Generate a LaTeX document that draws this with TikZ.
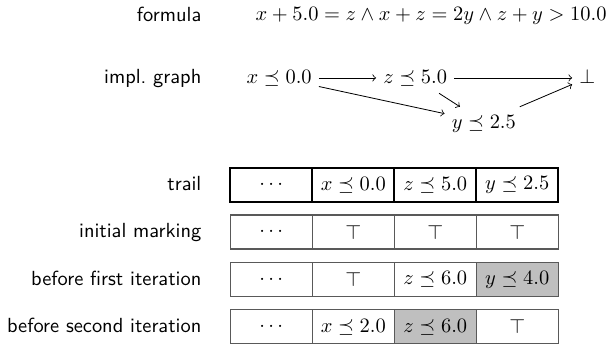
\documentclass[tikz,border=0pt]{standalone}
\usetikzlibrary{positioning}
\tikzset{
  rowlabel/.style={anchor=east,font=\sffamily,inner sep=0pt,text height=1.5ex,text depth=.25ex},
  impl/.style={text height=1.6ex,text depth=.25ex},
  cell/.style={draw=black!65,line width=0.6pt,minimum width=1.41cm,minimum height=0.585cm,inner sep=0pt,outer sep=0pt},
  trailcell/.style={cell,draw=black,line width=1pt},
  hit/.style={fill=black!25}
}
\begin{document}
\begin{tikzpicture}
        \useasboundingbox (0,0) rectangle (10.49,-5.97);
        \pgfmathsetmacro{\lx}{3.47}
        \pgfmathsetmacro{\tx}{3.96}
        \node[rowlabel] (lformula) at (\lx,-0.28) {formula};
        \node[anchor=west,inner sep=0pt] (formula) at (4.39,-0.28) {$x+5.0=z\wedge x+z=2y\wedge z+y>10.0$};
        \node[rowlabel] (lgraph) at (\lx,-1.34) {impl.\ graph};
        \node[impl] (gx) at (4.80,-1.34) {$x\preceq 0.0$};
        \node[impl] (gz) at (7.14,-1.34) {$z\preceq 5.0$};
        \node[impl] (gbot) at (10.10,-1.34) {$\bot$};
        \node[impl] (gy) at (8.32,-2.10) {$y\preceq 2.5$};
        \draw[->] (gx) -- (gz);
        \draw[->] (gz) -- (gbot);
        \draw[->] (gx) -- (gy);
        \draw[->] (gz) -- (gy);
        \draw[->] (gy) -- (gbot);
        \node[rowlabel] (ltrail) at (\lx,-3.18) {trail};
        \node[trailcell,anchor=west] (t1) at (\tx,-3.18) {$\cdots$};
        \node[trailcell,right=0pt of t1] (t2) {$x\preceq 0.0$};
        \node[trailcell,right=0pt of t2] (t3) {$z\preceq 5.0$};
        \node[trailcell,right=0pt of t3] (t4) {$y\preceq 2.5$};
        \node[rowlabel] (linit) at (\lx,-3.99) {initial marking};
        \node[cell,anchor=west] (m1) at (\tx,-3.99) {$\cdots$};
        \node[cell,right=0pt of m1] (m2) {$\top$};
        \node[cell,right=0pt of m2] (m3) {$\top$};
        \node[cell,right=0pt of m3] (m4) {$\top$};
        \node[rowlabel] (lfirst) at (\lx,-4.81) {before first iteration};
        \node[cell,anchor=west] (f1) at (\tx,-4.81) {$\cdots$};
        \node[cell,right=0pt of f1] (f2) {$\top$};
        \node[cell,right=0pt of f2] (f3) {$z\preceq 6.0$};
        \node[cell,hit,right=0pt of f3] (f4) {$y\preceq 4.0$};
        \node[rowlabel] (lsecond) at (\lx,-5.62) {before second iteration};
        \node[cell,anchor=west] (s1) at (\tx,-5.62) {$\cdots$};
        \node[cell,right=0pt of s1] (s2) {$x\preceq 2.0$};
        \node[cell,hit,right=0pt of s2] (s3) {$z\preceq 6.0$};
        \node[cell,right=0pt of s3] (s4) {$\top$};
    \end{tikzpicture}
\end{document}
